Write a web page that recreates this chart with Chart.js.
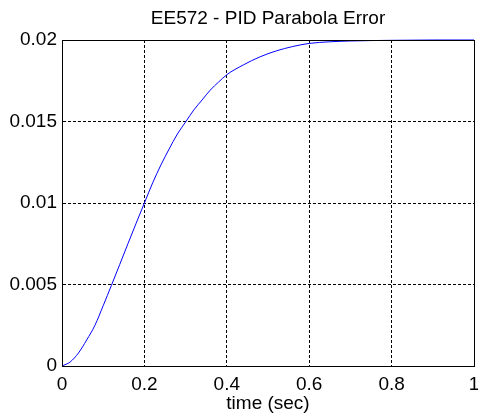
<!DOCTYPE html>
<html lang="en">
<head>
    <meta charset="UTF-8">
    <script src="https://cdn.jsdelivr.net/npm/chart.js"></script>
    <title>EE572 - PID Parabola Error</title>
    <style>
        body { margin: 0; background: #fff; }
    </style>
</head>
<body>
    <div style="width: 478px; height: 414px;">
        <canvas id="grafico" width="478" height="414"></canvas>
    </div>
    <script>
        // values
        const tempo = [0, 0.02, 0.04, 0.06, 0.08, 0.10, 0.12, 0.14, 0.16, 0.18, 0.20,
                       0.22, 0.24, 0.26, 0.28, 0.30, 0.32, 0.34, 0.36, 0.38, 0.40,
                       0.44, 0.48, 0.52, 0.56, 0.60, 0.65, 0.70, 0.80, 0.90, 1.00]
        const erro = [0, 0.00025, 0.0008, 0.0016, 0.0025, 0.0037, 0.00495, 0.00622, 0.0075, 0.00876, 0.0100,
                      0.01123, 0.01233, 0.01331, 0.01423, 0.01497, 0.01571, 0.01632, 0.01693, 0.01742, 0.01787,
                      0.01847, 0.01896, 0.01933, 0.0196, 0.01979, 0.01989, 0.01994, 0.01998, 0.02, 0.02]
        const xTicks = [0, 0.2, 0.4, 0.6, 0.8, 1]
        const yTicks = [0, 0.005, 0.01, 0.015, 0.02]

        const fonte = { family: 'Liberation Sans, Arial, sans-serif', size: 19, lineHeight: 1 }

        // closed box round the plot, like matlab's "box on"
        const caixa = {
          id: 'caixa',
          afterDraw(chart) {
            const a = chart.chartArea
            const c = chart.ctx
            c.save()
            c.strokeStyle = '#000'
            c.lineWidth = 1
            c.strokeRect(Math.round(a.left) + 0.5, Math.round(a.top) + 0.5,
                         Math.round(a.right - a.left), Math.round(a.bottom - a.top))
            c.restore()
          }
        }

        const ctx = document.getElementById('grafico')
        new Chart(ctx, {
          type: 'line',
          data: {
            datasets: [{
              data: tempo.map((t, i) => ({ x: t, y: erro[i] })),
              borderColor: '#0000ff',
              borderWidth: 1,
              pointRadius: 0,
              cubicInterpolationMode: 'monotone',
              clip: false
            }]
          },
          options: {
            responsive: false,
            animation: false,
            layout: { padding: { left: 0, right: 4, top: 0, bottom: 0 } },
            plugins: {
              legend: { display: false },
              tooltip: { enabled: false },
              title: {
                display: true,
                fullSize: false,
                text: 'EE572 - PID Parabola Error',
                color: '#000',
                font: { ...fonte, weight: 'normal' },
                padding: { top: 9.5, bottom: 11.5 }
              }
            },
            scales: {
              x: {
                type: 'linear',
                min: 0,
                max: 1,
                afterBuildTicks: s => { s.ticks = xTicks.map(v => ({ value: v })) },
                afterFit: s => { s.height = 48; s.paddingLeft = 0; s.paddingRight = 0 },
                ticks: { color: '#000', font: fonte, padding: 9, maxRotation: 0,
                         callback: v => String(v) },
                grid: { color: '#000', drawTicks: false, lineWidth: 1 },
                border: { display: true, color: '#000', dash: [3, 2] },
                title: { display: true, text: 'time (sec)', color: '#000', font: fonte,
                         padding: { top: 2, bottom: 1 } }
              },
              y: {
                min: 0,
                max: 0.02,
                afterBuildTicks: s => { s.ticks = yTicks.map(v => ({ value: v })) },
                afterFit: s => { s.width = 62 },
                ticks: { color: '#000', font: fonte, padding: 5,
                         callback: v => String(v) },
                grid: { color: '#000', drawTicks: false, lineWidth: 1 },
                border: { display: true, color: '#000', dash: [3, 2] }
              }
            }
          },
          plugins: [caixa]
        })
    </script>
</body>
</html>
